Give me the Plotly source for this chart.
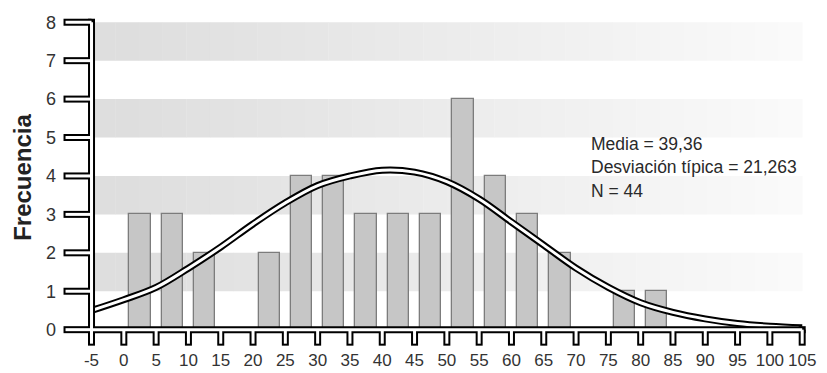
import plotly.graph_objects as go

# Histogram values
bin_centers = [2.5, 7.5, 12.5, 22.5, 27.5, 32.5, 37.5, 42.5, 47.5, 52.5, 57.5, 62.5, 67.5, 77.5, 82.5]
frequencies = [3, 3, 2, 2, 4, 4, 3, 3, 3, 6, 4, 3, 2, 1, 1]

# Normal curve, every 5 units
curve_x = [-5, 0, 5, 10, 15, 20, 25, 30, 35, 40, 45, 50, 55, 60, 65, 70, 75, 80, 85, 90, 95, 100, 105]
curve_y = [0.5, 0.78, 1.1, 1.6, 2.15, 2.75, 3.3, 3.75, 4.0, 4.15, 4.1, 3.85, 3.4,
           2.8, 2.2, 1.6, 1.1, 0.7, 0.45, 0.28, 0.16, 0.09, 0.05]

x_ticks = [-5, 0, 5, 10, 15, 20, 25, 30, 35, 40, 45, 50, 55, 60, 65, 70, 75, 80, 85, 90, 95, 100, 105]
y_ticks = [0, 1, 2, 3, 4, 5, 6, 7, 8]
band_starts = [1, 3, 5, 7]

stats_lines = ["Media = 39,36", "Desviación típica = 21,263", "N = 44"]

FONT = "Liberation Sans, Arial, sans-serif"

fig = go.Figure()

fig.add_trace(go.Bar(
    x=bin_centers, y=frequencies, width=3.3,
    marker=dict(color="#c6c6c6", line=dict(color="#7c7c7c", width=1.3)),
    hoverinfo="skip",
))

# double line curve: black underneath, white on top
fig.add_trace(go.Scatter(x=curve_x, y=curve_y, mode="lines", line_shape="spline",
                         line=dict(color="black", width=7), hoverinfo="skip"))
fig.add_trace(go.Scatter(x=curve_x, y=curve_y, mode="lines", line_shape="spline",
                         line=dict(color="white", width=3), hoverinfo="skip"))

shapes = []

# faded grey bands in the background
n_seg = 30
x_lo, x_hi = x_ticks[0], x_ticks[-1]
step = (x_hi - x_lo) / n_seg
for lo in band_starts:
    for i in range(n_seg):
        g = int(222 + (250 - 222) * i / (n_seg - 1))
        shapes.append(dict(type="rect", layer="below", xref="x", yref="y",
                           x0=x_lo + i * step, x1=x_lo + (i + 1) * step + 0.05,
                           y0=lo, y1=lo + 1, line=dict(width=0),
                           fillcolor=f"rgb({g},{g},{g})"))

# outlined axes: black strokes first, then white strokes
def axis_layer(color, w, xlen, ylen):
    out = []
    out.append(dict(type="line", layer="above", xref="x", yref="y",
                    x0=x_lo, x1=x_hi, y0=0, y1=0, line=dict(color=color, width=w)))
    out.append(dict(type="line", layer="above", xref="x", yref="y",
                    x0=x_lo, x1=x_lo, y0=0, y1=y_ticks[-1], line=dict(color=color, width=w)))
    for t in x_ticks:
        out.append(dict(type="line", layer="above", xref="x", yref="y",
                        x0=t, x1=t, ysizemode="pixel", yanchor=0, y0=0, y1=-xlen,
                        line=dict(color=color, width=w)))
    for t in y_ticks:
        out.append(dict(type="line", layer="above", xref="x", yref="y",
                        y0=t, y1=t, xsizemode="pixel", xanchor=x_lo, x0=0, x1=-ylen,
                        line=dict(color=color, width=w)))
    return out

shapes += axis_layer("black", 7, 16, 28)
# close the outer corners
for cx, cy in [(x_hi, 0), (x_lo, y_ticks[-1])]:
    shapes.append(dict(type="rect", layer="above", xref="x", yref="y",
                       xsizemode="pixel", xanchor=cx, x0=-3.5, x1=3.5,
                       ysizemode="pixel", yanchor=cy, y0=-3.5, y1=3.5,
                       fillcolor="black", line=dict(width=0)))
shapes += axis_layer("white", 3, 14, 26)

annotations = []
for i, txt in enumerate(stats_lines):
    annotations.append(dict(x=72.0, y=4.84 - 0.61 * i, xref="x", yref="y", text=txt,
                            showarrow=False, xanchor="left", yanchor="middle",
                            font=dict(family=FONT, size=17.5, color="#2a2a2a")))
annotations.append(dict(x=-0.053, y=0.517, xref="paper", yref="paper", text="<b>Frecuencia</b>",
                        textangle=-90, showarrow=False, xanchor="center", yanchor="middle",
                        font=dict(family=FONT, size=24, color="#222222")))

# the page body adds an 8px offset, so the figure is 8px smaller and shifted up-left
fig.update_layout(
    width=819, height=365,
    margin=dict(l=54, r=19, t=10, b=25),
    paper_bgcolor="white", plot_bgcolor="white",
    showlegend=False, bargap=0,
    shapes=shapes, annotations=annotations,
    xaxis=dict(range=[-9.57, 105.9], tickvals=x_ticks, ticktext=[str(t) for t in x_ticks],
               showgrid=False, zeroline=False, showline=False, ticks="", automargin=False,
               ticklabelstandoff=0,
               tickfont=dict(family=FONT, size=17, color="#333333")),
    yaxis=dict(range=[-0.477, 8.11], tickvals=y_ticks, ticktext=[str(t) for t in y_ticks],
               showgrid=False, zeroline=False, showline=False, ticks="", automargin=False,
               ticklabelstandoff=5,
               tickfont=dict(family=FONT, size=18, color="#333333")),
)

fig.write_html("out.html")
